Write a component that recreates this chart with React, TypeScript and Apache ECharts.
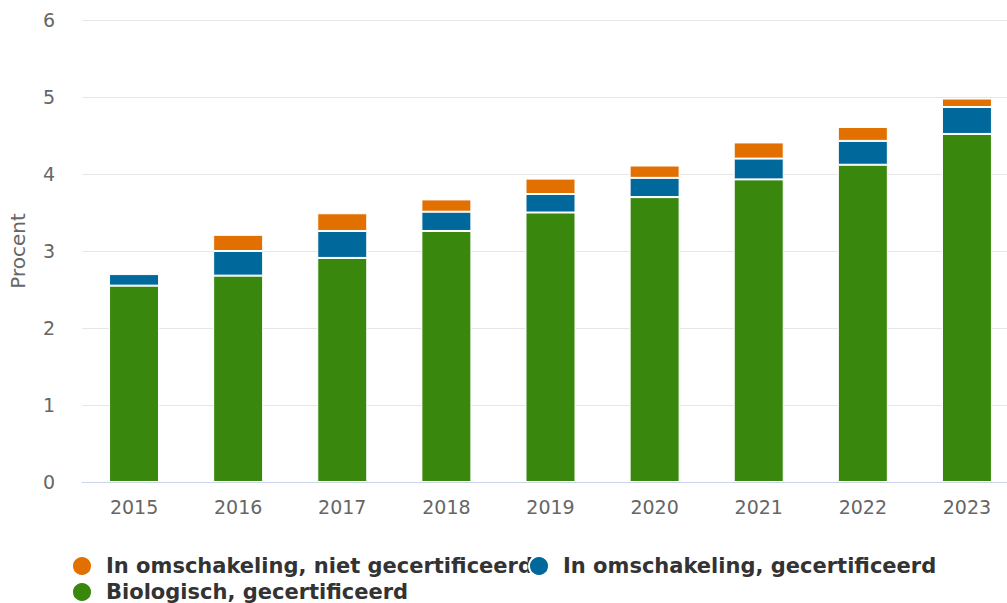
import React, { useEffect, useRef } from "react";
import * as echarts from "echarts";

const years = ["2015", "2016", "2017", "2018", "2019", "2020", "2021", "2022", "2023"];
const biologisch = [2.55, 2.68, 2.91, 3.26, 3.5, 3.7, 3.93, 4.12, 4.52];
const omschakelingGecert = [0.15, 0.32, 0.35, 0.25, 0.24, 0.25, 0.27, 0.31, 0.35];
const omschakelingNiet: (number | null)[] = [null, 0.21, 0.23, 0.16, 0.2, 0.16, 0.21, 0.18, 0.11];
const yTicks = [0, 1, 2, 3, 4, 5, 6];

const NAME_NIET = "In omschakeling, niet gecertificeerd";
const NAME_GECERT = "In omschakeling, gecertificeerd";
const NAME_BIO = "Biologisch, gecertificeerd";

const FONT = "DejaVu Sans, Verdana, sans-serif";

export default function App() {
  const ref = useRef<HTMLDivElement>(null);
  useEffect(() => {
    document.body.style.margin = "0";
    document.body.style.overflow = "hidden";
    if (!ref.current) return;
    const chart = echarts.init(ref.current, null, { renderer: "svg" });
    const legendText = {
      fontFamily: FONT,
      fontWeight: "bold" as const,
      fontSize: 21,
      color: "#333333",
      padding: [0, 0, 0, 9],
    };
    const legendBase = {
      icon: "circle",
      itemWidth: 20,
      itemHeight: 20,
      selectedMode: false,
      textStyle: legendText,
      padding: 0,
    };
    chart.setOption({
      animation: false,
      color: ["#39870c", "#01689b", "#e17000"],
      grid: { left: 82, right: 1, top: 20, bottom: 121, containLabel: false },
      legend: [
        { ...legendBase, data: [NAME_NIET], left: 71, top: 555 },
        { ...legendBase, data: [NAME_GECERT], left: 528, top: 555 },
        { ...legendBase, data: [NAME_BIO], left: 71, top: 581 },
      ],
      xAxis: {
        type: "category",
        data: years,
        axisLine: { lineStyle: { color: "#ccd6eb", width: 1 } },
        axisTick: { show: false },
        axisLabel: { fontFamily: FONT, fontSize: 19, color: "#666666", margin: 15 },
      },
      yAxis: {
        type: "value",
        min: yTicks[0],
        max: yTicks[yTicks.length - 1],
        interval: 1,
        name: "Procent",
        nameLocation: "middle",
        nameGap: 54,
        nameTextStyle: { fontFamily: FONT, fontSize: 20, color: "#666666" },
        axisLabel: { fontFamily: FONT, fontSize: 19, color: "#666666", margin: 27 },
        splitLine: { lineStyle: { color: "#e6e6e6", width: 1 } },
        axisLine: { show: false },
        axisTick: { show: false },
      },
      series: [
        {
          name: NAME_BIO,
          type: "bar",
          stack: "total",
          barWidth: 50,
          data: biologisch,
          itemStyle: { borderColor: "#ffffff", borderWidth: 1 },
        },
        {
          name: NAME_GECERT,
          type: "bar",
          stack: "total",
          barWidth: 50,
          data: omschakelingGecert,
          itemStyle: { borderColor: "#ffffff", borderWidth: 1 },
        },
        {
          name: NAME_NIET,
          type: "bar",
          stack: "total",
          barWidth: 50,
          data: omschakelingNiet,
          itemStyle: { borderColor: "#ffffff", borderWidth: 1 },
        },
      ],
    });
    return () => chart.dispose();
  }, []);
  return (
    <div
      ref={ref}
      style={{ position: "fixed", left: 0, top: 0, width: 1020, height: 603, background: "#ffffff" }}
    />
  );
}
